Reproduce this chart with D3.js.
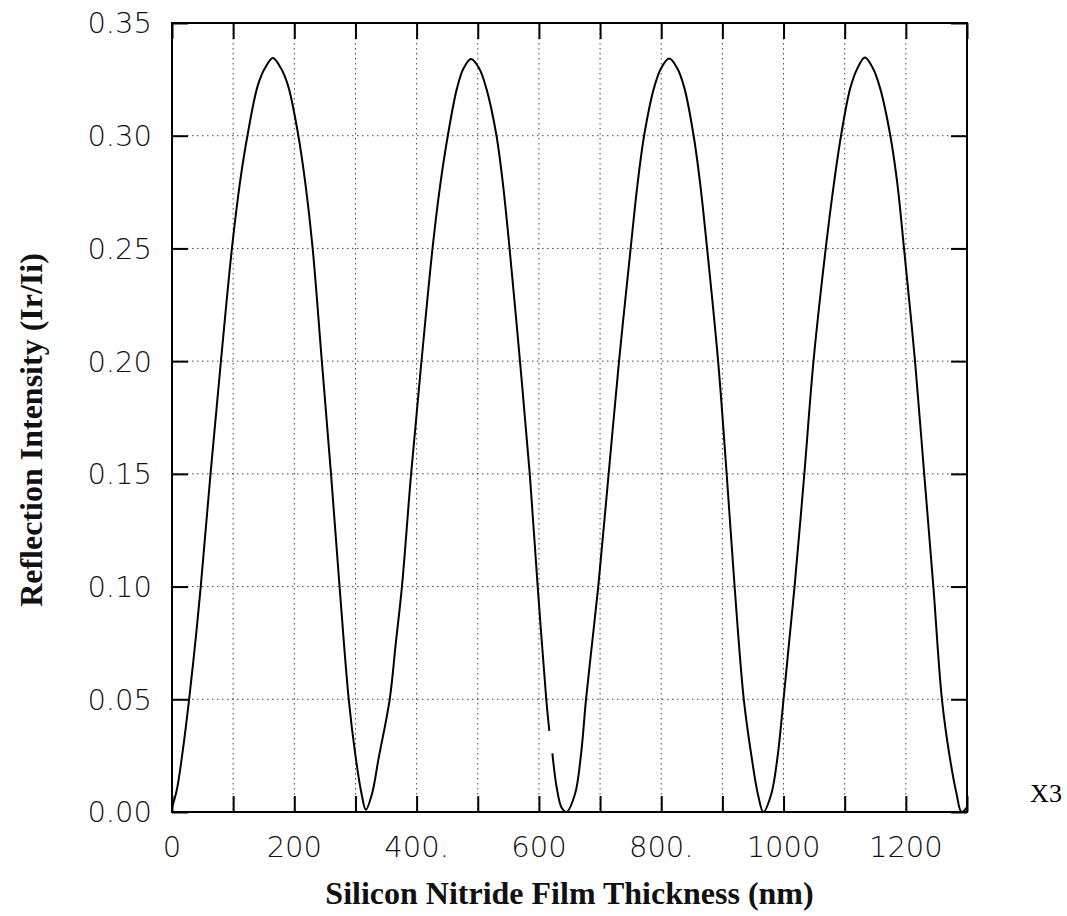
<!DOCTYPE html>
<html>
<head>
<meta charset="utf-8">
<script src="https://cdn.jsdelivr.net/npm/d3@7"></script>
<style>
  body { margin: 0; background: #fff; }
  svg { display: block; }
  .tick-label { font-family: "DejaVu Sans", sans-serif; font-weight: 200; font-size: 29px; fill: #111; }
  .title { font-family: "Liberation Serif", "Times New Roman", serif; font-weight: bold; font-size: 32px; fill: #111; }
</style>
</head>
<body>
<svg id="chart" width="1067" height="916"></svg>
<script>
// values (thickness in nm, intensity Ir/Ii)
// null marks the small break in the trace near 620 nm
var thickness = [
  0, 8, 17, 28, 38, 47, 63, 80, 98, 111, 124, 140, 152, 165, 178, 190, 206, 218, 230, 245, 260, 274, 289, 300, 310, 317,
  327, 338, 356, 366, 376, 391, 408, 426, 438, 451, 466, 477, 489, 502, 514, 530, 541, 552, 569, 585, 598, 612, 617, 619, 622, 629, 637, 645,
  659, 669, 677, 687, 697, 714, 731, 750, 761, 772, 788, 800, 813, 826, 838, 853, 864, 875, 893, 907, 920, 935, 948, 958, 967,
  980, 990, 1000, 1009, 1018, 1034, 1049, 1069, 1082, 1094, 1109, 1121, 1133, 1146, 1158, 1174, 1186, 1197, 1215, 1230, 1245, 1259, 1272, 1283, 1291, 1300
];
var intensity = [
  0.002, 0.010, 0.026, 0.050, 0.075, 0.100, 0.150, 0.200, 0.250, 0.279, 0.301, 0.322, 0.330, 0.3345, 0.330, 0.322, 0.301, 0.279, 0.250, 0.200, 0.150, 0.100, 0.050, 0.025, 0.008, 0.001,
  0.008, 0.024, 0.050, 0.075, 0.100, 0.150, 0.200, 0.250, 0.277, 0.300, 0.321, 0.330, 0.334, 0.330, 0.321, 0.301, 0.279, 0.250, 0.200, 0.150, 0.100, 0.050, 0.036, null, 0.026, 0.011, 0.002, 0.000,
  0.008, 0.026, 0.050, 0.075, 0.100, 0.150, 0.200, 0.250, 0.278, 0.300, 0.321, 0.330, 0.3342, 0.330, 0.321, 0.300, 0.278, 0.250, 0.200, 0.150, 0.100, 0.050, 0.024, 0.008, 0.000,
  0.008, 0.024, 0.050, 0.075, 0.100, 0.150, 0.200, 0.250, 0.278, 0.300, 0.321, 0.330, 0.3347, 0.330, 0.321, 0.301, 0.279, 0.250, 0.200, 0.150, 0.100, 0.050, 0.024, 0.008, 0.000, 0.002
];

var xTicks = [0, 100, 200, 300, 400, 500, 600, 700, 800, 900, 1000, 1100, 1200, 1300];
var xTickLabels = {0: "0", 200: "200", 400: "400.", 600: "600", 800: "800.", 1000: "1000", 1200: "1200"};
var yTicks = [0, 0.05, 0.10, 0.15, 0.20, 0.25, 0.30, 0.35];
var yTickLabels = ["0.00", "0.05", "0.10", "0.15", "0.20", "0.25", "0.30", "0.35"];

var xTitle = "Silicon Nitride Film Thickness (nm)";
var yTitle = "Reflection Intensity (Ir/Ii)";
var sideNote = "X3";

var margin = {top: 23, right: 100, bottom: 104, left: 172};
var width = 1067 - margin.left - margin.right,
    height = 916 - margin.top - margin.bottom;
var tickLen = 16;

var svg = d3.select("#chart");
var g = svg.append("g")
    .attr("transform", "translate(" + margin.left + "," + margin.top + ")");

var x = d3.scaleLinear().domain([0, 1300]).range([0, width]);
var y = d3.scaleLinear().domain([0, 0.35]).range([height, 0]);

// dotted grid
g.append("g").selectAll("line")
    .data(xTicks.slice(1, -1))
  .enter().append("line")
    .attr("x1", function(d) { return x(d); })
    .attr("x2", function(d) { return x(d); })
    .attr("y1", 0)
    .attr("y2", height)
    .attr("stroke", "#444")
    .attr("stroke-width", 1)
    .attr("stroke-dasharray", "1.5,3.5");

g.append("g").selectAll("line")
    .data(yTicks.slice(1, -1))
  .enter().append("line")
    .attr("x1", 0)
    .attr("x2", width)
    .attr("y1", function(d) { return y(d); })
    .attr("y2", function(d) { return y(d); })
    .attr("stroke", "#444")
    .attr("stroke-width", 1)
    .attr("stroke-dasharray", "1.5,3.5");

// inward ticks on all four sides
var bottomAxis = d3.axisBottom(x).tickValues(xTicks).tickSize(-tickLen).tickFormat("");
var topAxis = d3.axisTop(x).tickValues(xTicks).tickSize(-tickLen).tickFormat("");
var leftAxis = d3.axisLeft(y).tickValues(yTicks).tickSize(-tickLen).tickFormat("");
var rightAxis = d3.axisRight(y).tickValues(yTicks).tickSize(-tickLen).tickFormat("");

g.append("g").attr("transform", "translate(0," + height + ")").call(bottomAxis);
g.append("g").call(topAxis);
g.append("g").call(leftAxis);
g.append("g").attr("transform", "translate(" + width + ",0)").call(rightAxis);

g.selectAll(".domain").remove();
g.selectAll(".tick line").attr("stroke", "#000").attr("stroke-width", 2);

// frame
g.append("rect")
    .attr("width", width)
    .attr("height", height)
    .attr("fill", "none")
    .attr("stroke", "#000")
    .attr("stroke-width", 2);

// tick labels
g.append("g").selectAll("text")
    .data(xTicks.filter(function(d) { return xTickLabels[d] !== undefined; }))
  .enter().append("text")
    .attr("class", "tick-label")
    .attr("x", function(d) { return x(d); })
    .attr("y", height + 45)
    .attr("text-anchor", "middle")
    .text(function(d) { return xTickLabels[d]; });

g.append("g").selectAll("text")
    .data(yTicks)
  .enter().append("text")
    .attr("class", "tick-label")
    .attr("x", -20)
    .attr("y", function(d) { return y(d); })
    .attr("dy", "0.36em")
    .attr("text-anchor", "end")
    .text(function(d, i) { return yTickLabels[i]; });

// the trace
var pts = thickness.map(function(t, i) { return [t, intensity[i]]; });
var line = d3.line()
    .defined(function(d) { return d[1] !== null; })
    .x(function(d) { return x(d[0]); })
    .y(function(d) { return y(d[1]); })
    .curve(d3.curveCatmullRom.alpha(0.5));

g.append("path")
    .datum(pts)
    .attr("d", line)
    .attr("fill", "none")
    .attr("stroke", "#000")
    .attr("stroke-width", 2);

// titles
svg.append("text")
    .attr("class", "title")
    .attr("x", margin.left + width / 2)
    .attr("y", 904)
    .attr("text-anchor", "middle")
    .text(xTitle);

svg.append("text")
    .attr("class", "title")
    .attr("transform", "translate(42,430) rotate(-90)")
    .attr("text-anchor", "middle")
    .text(yTitle);

svg.append("text")
    .attr("x", 1046)
    .attr("y", 802)
    .attr("text-anchor", "middle")
    .style("font-family", "Liberation Serif, serif")
    .style("font-size", "26px")
    .text(sideNote);
</script>
</body>
</html>
